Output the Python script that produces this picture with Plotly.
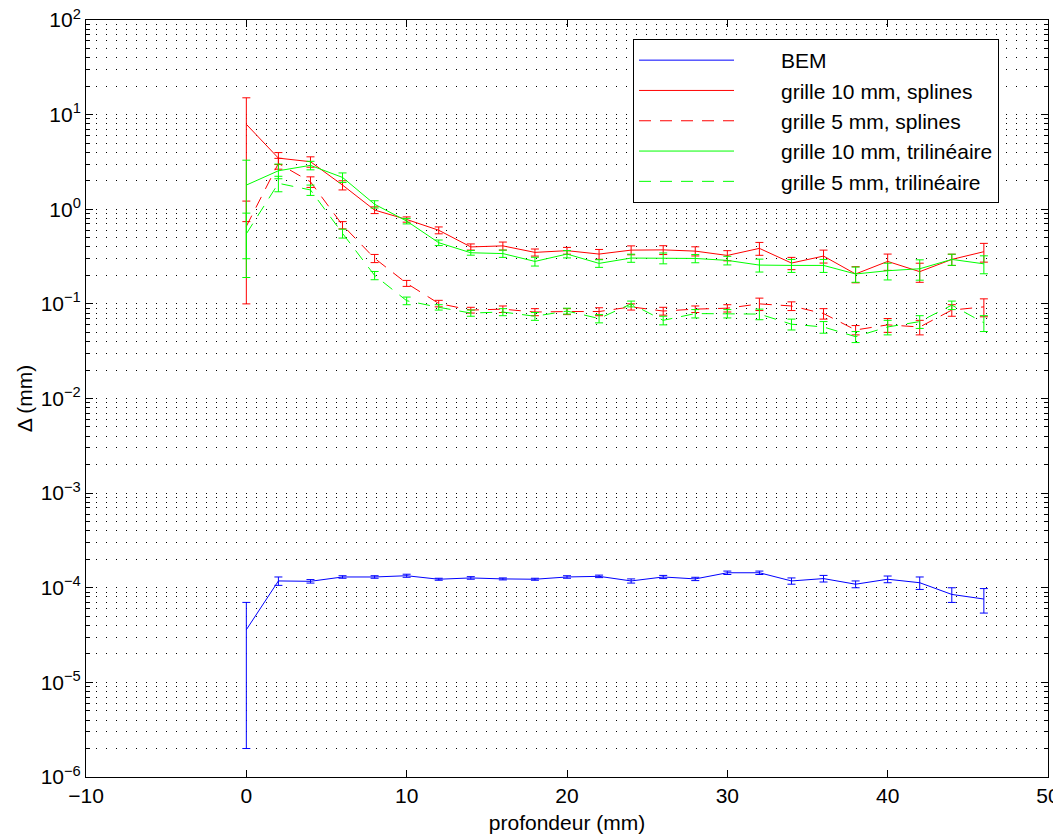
import plotly.graph_objects as go

depth = [0, 2, 4, 6, 8, 10, 12, 14, 16, 18, 20, 22, 24, 26, 28, 30, 32, 34, 36, 38, 40, 42, 44, 46]

bem = [3.6e-5, 1.18e-4, 1.17e-4, 1.30e-4, 1.30e-4, 1.34e-4, 1.23e-4, 1.27e-4, 1.24e-4, 1.23e-4,
       1.30e-4, 1.32e-4, 1.18e-4, 1.30e-4, 1.24e-4, 1.44e-4, 1.44e-4, 1.18e-4, 1.25e-4, 1.09e-4,
       1.23e-4, 1.13e-4, 8.5e-5, 7.6e-5]
bem_err = [3.4e-5, 1.2e-5, 5e-6, 4e-6, 4e-6, 5e-6, 3e-6, 4e-6, 3e-6, 3e-6,
           4e-6, 4e-6, 6e-6, 5e-6, 5e-6, 6e-6, 6e-6, 9e-6, 1.0e-5, 9e-6,
           1.0e-5, 1.7e-5, 1.5e-5, 2.2e-5]

spl10 = [7.9, 3.47, 3.18, 1.80, 0.98, 0.78, 0.60, 0.40, 0.41, 0.35,
         0.365, 0.336, 0.37, 0.372, 0.361, 0.325, 0.386, 0.27, 0.32, 0.207,
         0.281, 0.219, 0.295, 0.356]
spl10_err = [7.16, 0.5, 0.4, 0.2, 0.08, 0.05, 0.05, 0.03, 0.04, 0.03,
             0.03, 0.04, 0.04, 0.04, 0.04, 0.04, 0.06, 0.04, 0.05, 0.04,
             0.055, 0.05, 0.04, 0.08]

spl5 = [0.66, 3.05, 1.95, 0.68, 0.303, 0.165, 0.101, 0.086, 0.088, 0.082,
        0.083, 0.083, 0.093, 0.084, 0.088, 0.09, 0.10, 0.095, 0.079, 0.053,
        0.060, 0.057, 0.086, 0.093]
spl5_err = [0.56, 0.4, 0.25, 0.06, 0.03, 0.012, 0.008, 0.006, 0.007, 0.007,
            0.006, 0.008, 0.007, 0.008, 0.007, 0.008, 0.015, 0.01, 0.01, 0.006,
            0.01, 0.01, 0.012, 0.02]

tri10 = [1.8, 2.55, 2.91, 2.17, 1.13, 0.75, 0.443, 0.347, 0.34, 0.281,
         0.336, 0.268, 0.305, 0.305, 0.302, 0.288, 0.257, 0.255, 0.255, 0.207,
         0.224, 0.235, 0.295, 0.265]
tri10_err = [1.5, 0.45, 0.3, 0.25, 0.1, 0.05, 0.03, 0.02, 0.03, 0.03,
             0.03, 0.025, 0.03, 0.04, 0.03, 0.03, 0.04, 0.04, 0.04, 0.038,
             0.045, 0.057, 0.04, 0.057]

tri5 = [0.55, 1.88, 1.6, 0.556, 0.20, 0.108, 0.092, 0.08, 0.082, 0.074,
        0.084, 0.070, 0.10, 0.067, 0.079, 0.079, 0.078, 0.061, 0.057, 0.045,
        0.057, 0.065, 0.097, 0.063]
tri5_err = [0.36, 0.35, 0.2, 0.06, 0.02, 0.01, 0.006, 0.006, 0.007, 0.007,
            0.006, 0.007, 0.007, 0.007, 0.008, 0.008, 0.01, 0.008, 0.008, 0.006,
            0.01, 0.01, 0.01, 0.012]

y_tick_vals = [1e-6, 1e-5, 1e-4, 1e-3, 1e-2, 1e-1, 1e0, 1e1, 1e2]
y_tick_text = ["10<sup>−6</sup>", "10<sup>−5</sup>", "10<sup>−4</sup>", "10<sup>−3</sup>",
               "10<sup>−2</sup>", "10<sup>−1</sup>", "10<sup>0</sup>", "10<sup>1</sup>",
               "10<sup>2</sup>"]

series = [
    ("BEM", bem, bem_err, "#0000ff", "solid"),
    ("grille 10 mm, splines", spl10, spl10_err, "#ff0000", "solid"),
    ("grille 5 mm, splines", spl5, spl5_err, "#ff0000", "12px,9px"),
    ("grille 10 mm, trilinéaire", tri10, tri10_err, "#00ff00", "solid"),
    ("grille 5 mm, trilinéaire", tri5, tri5_err, "#00ff00", "12px,9px"),
]

PAD = "\u2003\u2003"

fig = go.Figure()
for name, y, e, col, dash in series:
    fig.add_trace(go.Scatter(
        x=depth, y=y, name=PAD + name, mode="lines",
        line=dict(color=col, width=1, dash=dash),
        error_y=dict(type="data", array=e, visible=True, color=col, thickness=1, width=4),
    ))

font = "Liberation Sans, Arial, Helvetica, sans-serif"
minor_vals = [m * 10.0 ** k for k in range(-6, 2) for m in range(2, 10)]

# page body has an 8px margin: figure is sized/offset to compensate
fig.update_layout(
    width=1053, height=831,
    margin=dict(l=78, r=13, t=12, b=62),
    paper_bgcolor="white", plot_bgcolor="white",
    font=dict(family=font, size=21, color="black"),
    showlegend=True,
    legend=dict(
        x=(633 - 86) / 962, y=1 - (39 - 20) / 757, xanchor="left", yanchor="top",
        bgcolor="white", bordercolor="black", borderwidth=1,
        font=dict(family=font, size=21, color="black"),
        itemwidth=95, tracegroupgap=0,
    ),
    xaxis=dict(
        range=[-10, 50], dtick=10, tick0=0, automargin=False,
        ticklabeloverflow="allow",
        showline=True, linecolor="black", linewidth=1, mirror="ticks",
        ticks="inside", ticklen=7, tickcolor="black",
        showgrid=False, zeroline=False,
        title=dict(text="profondeur (mm)", standoff=9, font=dict(size=21)),
        tickfont=dict(size=21),
    ),
    yaxis=dict(
        type="log", range=[-6, 2], automargin=False,
        ticklabeloverflow="allow",
        tickmode="array", tickvals=y_tick_vals, ticktext=y_tick_text,
        showline=True, linecolor="black", linewidth=1, mirror="ticks",
        ticks="inside", ticklen=7, tickcolor="black",
        showgrid=True, gridcolor="black", gridwidth=1, griddash="1px,9px",
        zeroline=False,
        minor=dict(tickvals=minor_vals, ticks="inside", ticklen=4, tickcolor="black",
                   showgrid=True, gridcolor="black", gridwidth=1, griddash="1px,9px"),
        title=dict(text="Δ (mm)", standoff=2, font=dict(size=21)),
        tickfont=dict(size=21),
    ),
)

fig.write_html("out.html")
